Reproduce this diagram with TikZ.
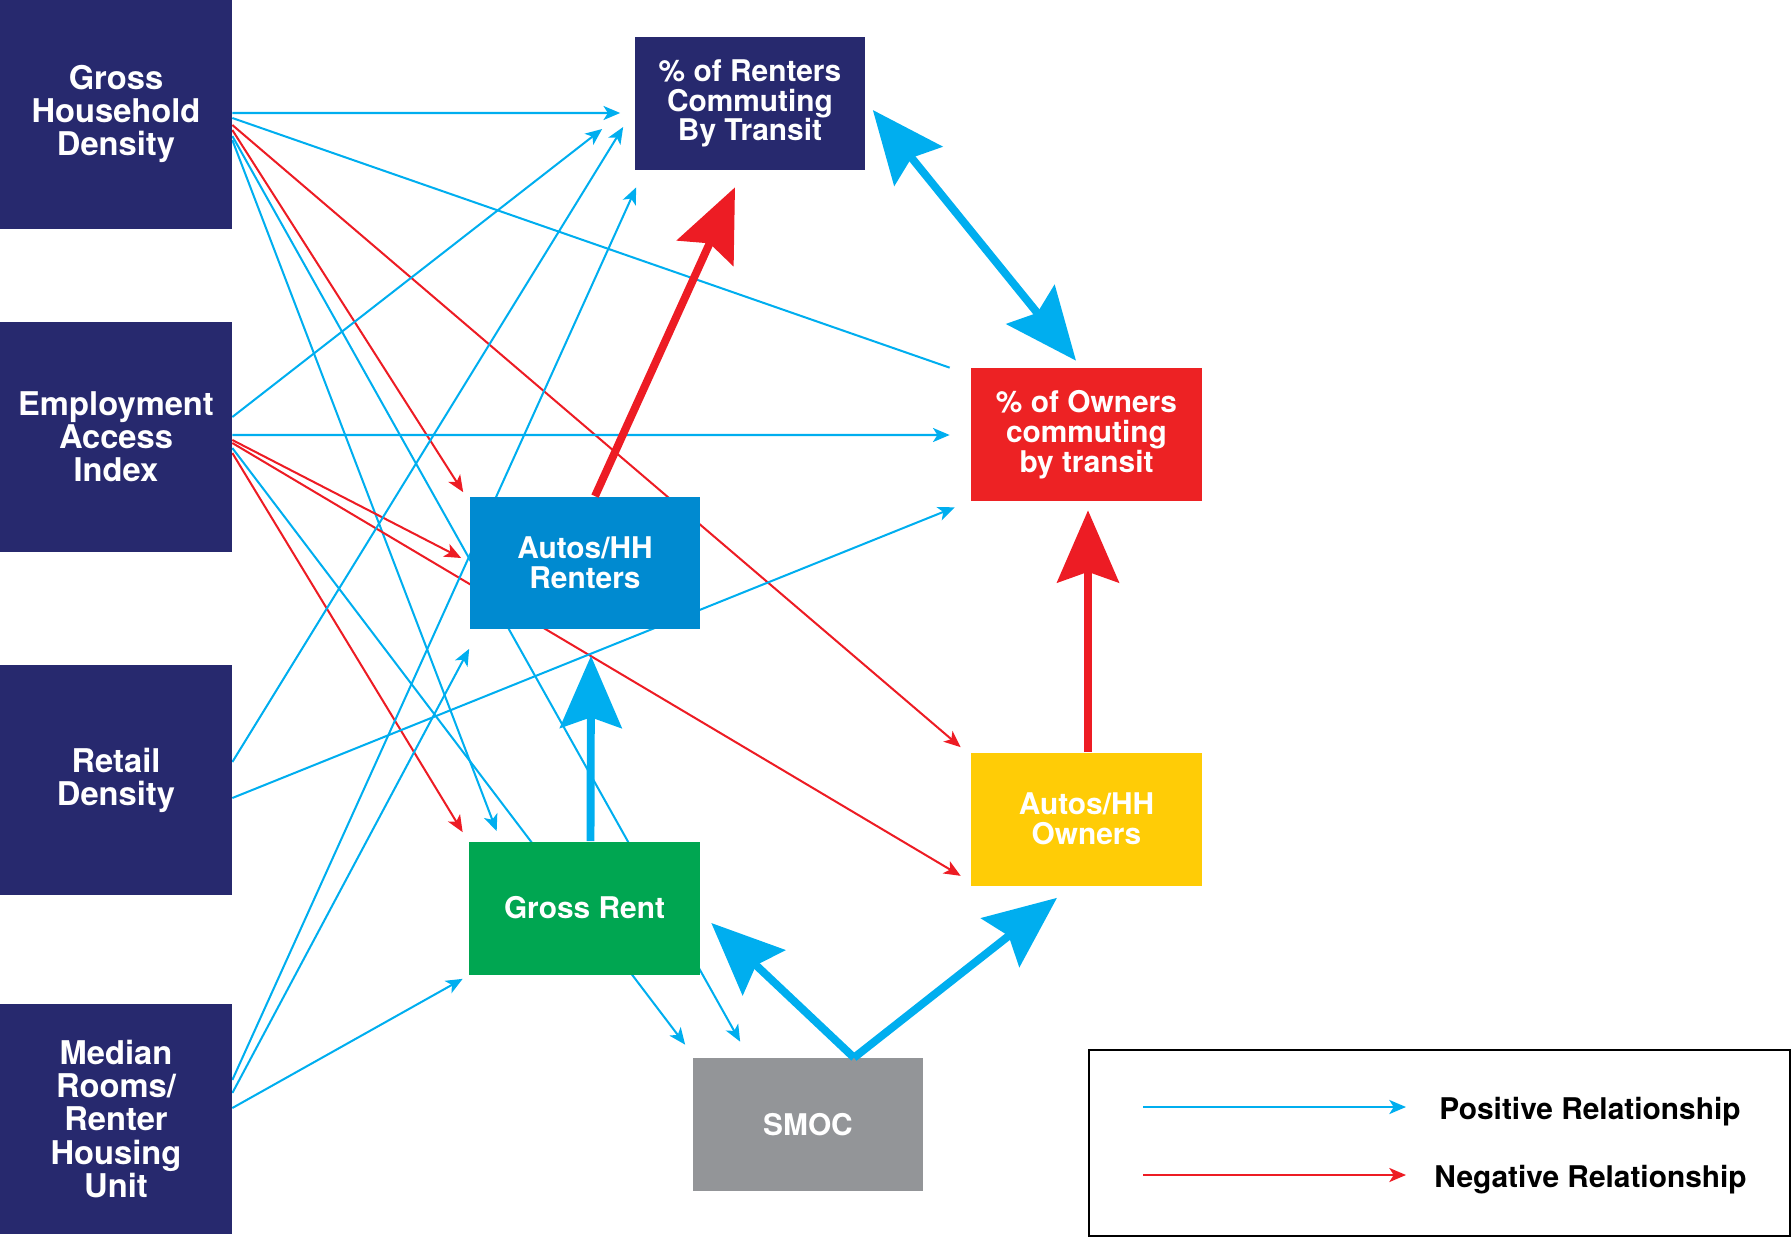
\documentclass[tikz,border=0pt]{standalone}
\usepackage{fontspec}
\setmainfont{TeX Gyre Heros}
\usepackage{xcolor}
\usetikzlibrary{arrows.meta,calc,positioning}
\definecolor{navy}{RGB}{39,41,110}
\definecolor{ownred}{RGB}{237,34,36}
\definecolor{rentblue}{RGB}{0,138,208}
\definecolor{ownyellow}{RGB}{255,204,6}
\definecolor{rentgreen}{RGB}{0,166,81}
\definecolor{smocgray}{RGB}{147,149,152}
\definecolor{poscol}{RGB}{0,174,239}
\definecolor{negcol}{RGB}{237,28,36}
\pgfdeclarelayer{background}
\pgfsetlayers{background,main}

\begin{document}
\begin{tikzpicture}[x=0.02cm,y=-0.02cm,
    srcbox/.style={fill=navy,text=white,inner sep=0pt,align=center,
        minimum width=4.64cm,minimum height=4.62cm,
        font=\fontsize{18.6}{18.9}\selectfont\bfseries},
    varbox/.style={fill=#1,text=white,inner sep=0pt,align=center,
        minimum width=4.62cm,minimum height=2.66cm,
        font=\fontsize{17}{17}\selectfont\bfseries},
    plusline/.style={draw=poscol,line width=1.15pt},
    plusarrow/.style={plusline,-{Stealth[length=9.5pt,width=8pt,inset=2.5pt]}},
    minusarrow/.style={draw=negcol,line width=1.15pt,-{Stealth[length=9.5pt,width=8pt,inset=2.5pt]}},
    bigplus/.style={draw=poscol,line width=4.5pt,-{Stealth[length=41pt,width=35pt,inset=6pt]}},
    bigminus/.style={draw=negcol,line width=4.5pt,-{Stealth[length=41pt,width=35pt,inset=6pt]}},
    bigboth/.style={draw=poscol,line width=4.5pt,
        {Stealth[length=41pt,width=35pt,inset=6pt]}-{Stealth[length=41pt,width=35pt,inset=6pt]}},
    legtext/.style={inner sep=0pt,anchor=base west,font=\fontsize{17}{17}\selectfont\bfseries}
    ]
    \useasboundingbox (0,0) rectangle (1792,1238);

    \node[srcbox] (GHD) at (116,114) {Gross\\Household\\Density};
    \node[srcbox] (EAI) at (116,437) {Employment\\Access\\Index};
    \node[srcbox] (RD) at (116,780) {Retail\\Density};
    \node[srcbox] (MR) at (116,1119) {Median\\Rooms/\\Renter\\Housing\\Unit};

    \node[varbox=navy] (PRT) at (750,103.5) {\% of Renters\\Commuting\\By Transit};
    \node[varbox=ownred] (POT) at (1086.5,434.5) {\% of Owners\\commuting\\by transit};
    \node[varbox=rentblue] (AHR) at (585,563) {Autos/HH\\Renters};
    \node[varbox=ownyellow] (AHO) at (1086.5,819) {Autos/HH\\Owners};
    \node[varbox=rentgreen] (GR) at (584.5,908) {Gross Rent};
    \node[varbox=smocgray] (SMOC) at (808,1124.5) {SMOC};

    \begin{pgfonlayer}{background}
    \draw[plusarrow] ($(GHD.east)+(0,-1)$) -- ($(PRT.west)+(-14,9.5)$);
    \draw[plusline] ($(GHD.east)+(0,4)$) -- ($(POT.north west)+(-21,0)$);
    \draw[minusarrow] ($(GHD.east)+(0,11)$) -- ($(AHO.north west)+(-10,-5)$);
    \draw[minusarrow] ($(GHD.east)+(0,16)$) -- ($(AHR.north west)+(-6,-4)$);
    \draw[plusarrow] ($(GHD.east)+(0,22)$) -- ($(SMOC.north west)+(48,-16)$);
    \draw[plusarrow] ($(GHD.east)+(0,26)$) -- ($(GR.north west)+(28,-10)$);

    \draw[plusarrow] ($(EAI.east)+(0,-20)$) -- ($(PRT.west)+(-32,25.5)$);
    \draw[plusarrow] ($(EAI.east)+(0,-2)$) -- ($(POT.west)+(-21,0.5)$);
    \draw[minusarrow] ($(EAI.east)+(0,3)$) -- ($(AHR.west)+(-8,-5)$);
    \draw[minusarrow] ($(EAI.east)+(0,6)$) -- ($(AHO.south west)+(-10,-10)$);
    \draw[plusarrow] ($(EAI.east)+(0,11)$) -- ($(SMOC.north west)+(-7,-13)$);
    \draw[minusarrow] ($(EAI.east)+(0,16)$) -- ($(GR.north west)+(-6,-9)$);

    \draw[plusarrow] ($(RD.east)+(0,-18)$) -- ($(PRT.west)+(-11,23.5)$);
    \draw[plusarrow] ($(RD.east)+(0,18)$) -- ($(POT.south west)+(-16,6)$);

    \draw[plusarrow] ($(MR.east)+(0,-39)$) -- ($(PRT.south west)+(2,17)$);
    \draw[plusarrow] ($(MR.east)+(0,-26)$) -- ($(AHR.south west)+(0,19)$);
    \draw[plusarrow] ($(MR.east)+(0,-11)$) -- ($(GR.south west)+(-6,4)$);
    \end{pgfonlayer}

    \draw[bigminus] ($(AHR.north)+(10,0)$) -- ($(PRT.south)+(-15,17)$);
    \draw[bigminus] ($(AHO.north)+(1.5,0)$) -- ($(POT.south)+(1.5,9)$);
    \draw[bigplus] ($(GR.north)+(6,0)$) -- ($(AHR.south)+(6,26)$);
    \coordinate (fork) at ($(SMOC.north)+(46,0)$);
    \draw[bigplus] (fork) -- ($(GR.east)+(11,15)$);
    \draw[bigplus] (fork) -- ($(AHO.south)+(-29.5,12)$);
    \draw[bigboth] ($(PRT.east)+(7,6.5)$) -- ($(POT.north)+(-10.5,-7)$);

    \node[draw=black,line width=1.15pt,minimum width=14.02cm,minimum height=3.72cm] (legend) at (1439.5,1143) {};
    \node[legtext] (postext) at (1439,1119) {Positive Relationship};
    \node[legtext] (negtext) at (1434,1187) {Negative Relationship};
    \coordinate (posa) at (1143,1107);
    \coordinate (posb) at (1406,1107);
    \coordinate (nega) at (1143,1175);
    \coordinate (negb) at (1406,1175);
    \draw[plusarrow] (posa) -- (posb);
    \draw[minusarrow] (nega) -- (negb);
\end{tikzpicture}
\end{document}
